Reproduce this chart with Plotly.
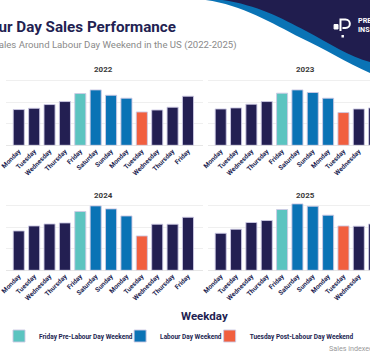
import plotly.graph_objects as go

# ---------------- data ----------------
days = ["Monday", "Tuesday", "Wednesday", "Thursday", "Friday", "Saturday",
        "Sunday", "Monday", "Tuesday", "Wednesday", "Thursday", "Friday"]
groups = ["Regular", "Regular", "Regular", "Regular",
          "Friday Pre-Labour Day Weekend",
          "Labour Day Weekend", "Labour Day Weekend", "Labour Day Weekend",
          "Tuesday Post-Labour Day Weekend",
          "Regular", "Regular", "Regular"]
years = ["2022", "2023", "2024", "2025"]
sales_2022 = [41.5, 43.0, 47.3, 50.8, 60.1, 64.3, 58.1, 54.7, 38.7, 41.0, 44.2, 57.0]
sales_2023 = [42.2, 43.4, 47.7, 50.8, 60.5, 64.3, 61.3, 54.7, 38.0, 42.2, 43.4, 56.0]
sales_2024 = [45.7, 51.5, 53.8, 55.0, 68.3, 74.8, 71.3, 63.1, 39.9, 53.5, 53.5, 61.6]
sales_2025 = [43.0, 47.7, 55.5, 57.8, 70.6, 77.1, 74.4, 64.0, 51.5, 51.2, 53.8, 60.0]
series = [sales_2022, sales_2023, sales_2024, sales_2025]

# ---------------- style ----------------
W, H = 370, 360
NAVY = "#231F52"
TEAL = "#5BC4C0"
BLUE = "#0A73B5"
RED = "#F15F3F"
colors = {"Regular": NAVY, "Friday Pre-Labour Day Weekend": TEAL,
          "Labour Day Weekend": BLUE, "Tuesday Post-Labour Day Weekend": RED}
legend_of = {"Friday Pre-Labour Day Weekend": "legend",
             "Labour Day Weekend": "legend2",
             "Tuesday Post-Labour Day Weekend": "legend3"}
FONT = "Roboto"


def px(x):
    return x / W


def py(y):
    return 1 - y / H


fig = go.Figure()
group_order = ["Regular", "Friday Pre-Labour Day Weekend", "Labour Day Weekend",
               "Tuesday Post-Labour Day Weekend"]
for k, (yr, vals) in enumerate(zip(years, series)):
    ax = "" if k == 0 else str(k + 1)
    for g in group_order:
        idx = [i for i, gg in enumerate(groups) if gg == g]
        fig.add_trace(go.Bar(
            x=idx, y=[vals[i] for i in idx], width=0.72,
            name=g, marker=dict(color=colors[g],
                                line=dict(color="rgba(205,202,228,0.9)", width=1)),
            xaxis="x" + ax, yaxis="y" + ax,
            showlegend=(k == 0 and g != "Regular"),
            legend=legend_of.get(g, "legend"),
            hovertemplate="%{y}<extra>" + yr + "</extra>",
        ))

row1 = [py(145.3), py(76.4)]
row2 = [py(270.3), py(201.4)]
left = [0, px(200)]
right = [px(205), 1]
xr_left = [-0.83, 11.96]
xr_right = [-0.85, 9.73]

xcommon = dict(tickmode="array", tickvals=list(range(12)), ticktext=days,
               tickangle=-45, showgrid=False, zeroline=False, showline=False,
               ticks="", ticklabeloverflow="allow",
               tickfont=dict(family=FONT, size=6.6, color=NAVY, weight="bold"))
ycommon = dict(range=[0, 80], tickvals=[0, 25, 50, 75], showticklabels=False,
               gridcolor="#EFEFEF", gridwidth=1, zeroline=True,
               zerolinecolor="#E6E6E6", zerolinewidth=1, ticks="")

layout = dict(
    width=W, height=H, autosize=False,
    margin=dict(l=0, r=0, t=0, b=0),
    paper_bgcolor="white", plot_bgcolor="white",
    barmode="overlay", bargap=0.28,
    font=dict(family=FONT, color=NAVY),
    xaxis=dict(domain=left, anchor="y", range=xr_left, **xcommon),
    yaxis=dict(domain=row1, anchor="x", **ycommon),
    xaxis2=dict(domain=right, anchor="y2", range=xr_right, **xcommon),
    yaxis2=dict(domain=row1, anchor="x2", **ycommon),
    xaxis3=dict(domain=left, anchor="y3", range=xr_left, **xcommon),
    yaxis3=dict(domain=row2, anchor="x3", **ycommon),
    xaxis4=dict(domain=right, anchor="y4", range=xr_right, **xcommon),
    yaxis4=dict(domain=row2, anchor="x4", **ycommon),
)
legfont = dict(family=FONT, size=6.5, color=NAVY, weight="bold")
for name, xpos, ind in [("legend", 0, -7), ("legend2", 116, 0), ("legend3", 207, 0)]:
    layout[name] = dict(x=px(xpos), y=py(336), xanchor="left", yanchor="middle",
                        orientation="h", bgcolor="rgba(0,0,0,0)", font=legfont,
                        indentation=ind, itemclick=False, itemdoubleclick=False)
fig.update_layout(**layout)

# ---------------- decoration ----------------
blue_path = (f"M {px(203)},{py(0)} C {px(240)},{py(5)} {px(270)},{py(23)} {px(300)},{py(38)} "
             f"C {px(322)},{py(48)} {px(347)},{py(63)} {px(370)},{py(73)} "
             f"L {px(370)},{py(-2)} L {px(203)},{py(-2)} Z")
navy_path = (f"M {px(220)},{py(0)} C {px(255)},{py(5)} {px(280)},{py(18)} {px(305)},{py(31)} "
             f"C {px(328)},{py(43)} {px(350)},{py(57)} {px(370)},{py(62)} "
             f"L {px(370)},{py(-2)} L {px(220)},{py(-2)} Z")
p_path = (f"M {px(340)},{py(31)} L {px(340)},{py(19.5)} L {px(345)},{py(19.5)} "
          f"C {px(351)},{py(19.5)} {px(351)},{py(28)} {px(345)},{py(28)} L {px(342)},{py(28)}")
shapes = [
    dict(type="path", xref="paper", yref="paper", path=blue_path,
         fillcolor=BLUE, line=dict(width=0), layer="below"),
    dict(type="path", xref="paper", yref="paper", path=navy_path,
         fillcolor="#201D4E", line=dict(width=0), layer="below"),
    dict(type="path", xref="paper", yref="paper", path=p_path,
         line=dict(color="white", width=2)),
    dict(type="rect", xref="paper", yref="paper", x0=px(333.5), x1=px(337.5),
         y0=py(29), y1=py(24.5), fillcolor="white", line=dict(color="white", width=1)),
    dict(type="rect", xref="paper", yref="paper", x0=px(341), x1=px(343.5),
         y0=py(37.5), y1=py(35), fillcolor="white", line=dict(width=0)),
]
fig.update_layout(shapes=shapes)

ann = []
ann.append(dict(text="<b>Labour Day Sales Performance</b>", x=px(175), y=py(27),
                xanchor="right", yanchor="middle",
                font=dict(family=FONT, size=15.2, color=NAVY)))
ann.append(dict(text="Sales Around Labour Day Weekend in the US (2022-2025)",
                x=px(237), y=py(44.5), xanchor="right", yanchor="middle",
                font=dict(family=FONT, size=9.6, color="#8A8A8A")))
for yr, (cx, cy) in zip(years, [(98.8, 70), (304.5, 70), (98.8, 195), (304.5, 195)]):
    ann.append(dict(text=f"<b>{yr}</b>", x=px(cx), y=py(cy), xanchor="center",
                    yanchor="middle", font=dict(family=FONT, size=8, color="#3A3A3A")))
ann.append(dict(text="<b>Weekday</b>", x=px(201.5), y=py(316), xanchor="center",
                yanchor="middle", font=dict(family=FONT, size=11.5, color=NAVY)))
ann.append(dict(text="Sales indexed", x=px(326), y=py(348), xanchor="left",
                yanchor="middle", font=dict(family=FONT, size=7.2, color="#9A9A9A")))
ann.append(dict(text="<b>PRE</b><br><b>INS</b>", x=px(356), y=py(25.5), xanchor="left",
                yanchor="middle", align="left",
                font=dict(family=FONT, size=7.2, color="white")))
for a in ann:
    a.update(xref="paper", yref="paper", showarrow=False)
fig.update_layout(annotations=ann)

fig.write_html("out.html", config={"displayModeBar": False},
               post_script="document.body.style.margin='0';document.body.style.overflow='hidden';")
